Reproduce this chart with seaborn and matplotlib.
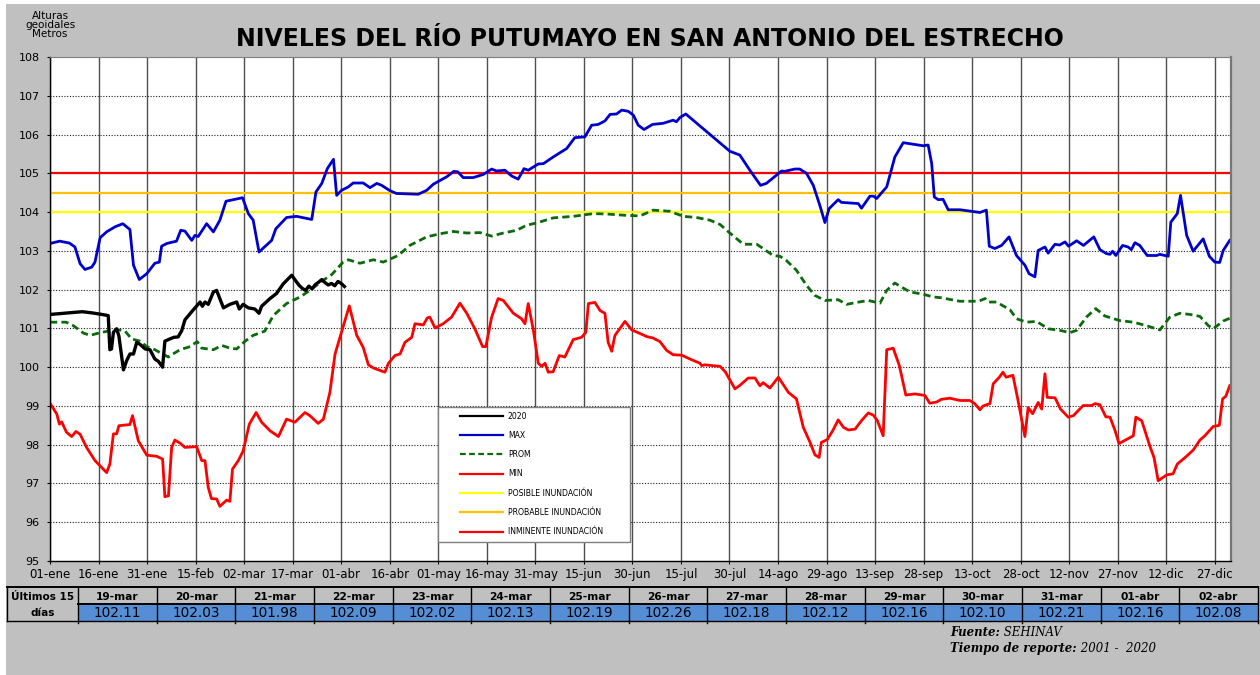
import matplotlib
matplotlib.use("Agg")
import matplotlib.pyplot as plt
from matplotlib.patches import Rectangle
from matplotlib.lines import Line2D
import pandas as pd
import seaborn as sns

# ---------------- data ----------------
TITLE = "NIVELES DEL RÍO PUTUMAYO EN SAN ANTONIO DEL ESTRECHO"
Y_LABEL = "Alturas\ngeoidales\nMetros"

x_tick_labels = ["01-ene", "16-ene", "31-ene", "15-feb", "02-mar", "17-mar", "01-abr",
                 "16-abr", "01-may", "16-may", "31-may", "15-jun", "30-jun", "15-jul",
                 "30-jul", "14-ago", "29-ago", "13-sep", "28-sep", "13-oct", "28-oct",
                 "12-nov", "27-nov", "12-dic", "27-dic"]
x_tick_days = list(range(0, 361, 15))
y_ticks = list(range(95, 109))

threshold_levels = [104.0, 104.5, 105.0]
threshold_labels = ["POSIBLE INUNDACIÓN", "PROBABLE INUNDACIÓN", "INMINENTE INUNDACIÓN"]

table_dates = ["19-mar", "20-mar", "21-mar", "22-mar", "23-mar", "24-mar", "25-mar",
               "26-mar", "27-mar", "28-mar", "29-mar", "30-mar", "31-mar", "01-abr", "02-abr"]
table_values = [102.11, 102.03, 101.98, 102.09, 102.02, 102.13, 102.19,
                102.26, 102.18, 102.12, 102.16, 102.10, 102.21, 102.16, 102.08]
table_first_day = 77  # 19-mar

# 2020 series (day of year, level) before the last 15 days
y2020_early = [(0, 101.36), (3, 101.38), (7, 101.41), (10, 101.43), (13, 101.40), (16, 101.36),
               (18, 101.33), (18.5, 100.45), (19, 100.47), (19.6, 100.90), (20.6, 100.99),
               (21.3, 100.80), (22.7, 99.93), (23.7, 100.17), (24.7, 100.34), (25.8, 100.34),
               (26.8, 100.64), (27.8, 100.59), (29.4, 100.47), (30.9, 100.45), (32.4, 100.21),
               (33.5, 100.15), (34.8, 100.00), (35.5, 100.67), (37.1, 100.73), (38.3, 100.77),
               (39.6, 100.78), (40.7, 100.94), (41.7, 101.22), (44.3, 101.48), (46.4, 101.68),
               (47.1, 101.57), (47.9, 101.68), (48.9, 101.62), (50.5, 101.94), (51.5, 101.98),
               (53.6, 101.53), (55.6, 101.62), (57.7, 101.68), (58.5, 101.50), (59.7, 101.62),
               (61.3, 101.53), (63.3, 101.50), (64.6, 101.39), (65.4, 101.57), (68, 101.77),
               (70, 101.90), (72.1, 102.15), (74.7, 102.37), (76, 102.22)]

max_pts = [(0, 103.19), (3, 103.25), (6, 103.2), (7.7, 103.1), (9.3, 102.67), (10.8, 102.52),
           (12.9, 102.58), (13.9, 102.71), (15.5, 103.34), (17.5, 103.49), (20.1, 103.62),
           (22.5, 103.70), (24.7, 103.55), (25.8, 102.63), (27.6, 102.26), (29.9, 102.41),
           (32.4, 102.68), (33.8, 102.71), (34.5, 103.12), (36.1, 103.19), (39.1, 103.25),
           (40.4, 103.53), (41.7, 103.51), (43.8, 103.27), (44.8, 103.40), (45.8, 103.37),
           (48.4, 103.70), (50.5, 103.49), (52.5, 103.79), (54.4, 104.28), (56.7, 104.32),
           (59.5, 104.37), (61.3, 103.96), (62.8, 103.79), (64.6, 102.97), (68.5, 103.27),
           (69.8, 103.57), (73.1, 103.86), (76.2, 103.89), (80.9, 103.81), (82.2, 104.52),
           (84.0, 104.74), (85.7, 105.12), (87.6, 105.36), (88.6, 104.43), (90.1, 104.56),
           (92.2, 104.65), (93.7, 104.75), (96.8, 104.75), (98.9, 104.63), (101, 104.74),
           (102.5, 104.69), (105.1, 104.55), (107.1, 104.48), (113.8, 104.46), (116.4, 104.56),
           (118.5, 104.72), (122.6, 104.91), (124.8, 105.05), (126, 105.04), (127.7, 104.89),
           (130.8, 104.89), (133.9, 104.97), (136.5, 105.11), (138, 105.06), (140.6, 105.08),
           (142.7, 104.93), (144.7, 104.85), (146.5, 105.12), (147.8, 105.08), (150.9, 105.24),
           (152.5, 105.25), (155.5, 105.42), (159.7, 105.64), (162.2, 105.92), (165.3, 105.94),
           (167.4, 106.24), (169.4, 106.26), (171.5, 106.35), (173.1, 106.52), (175.1, 106.53),
           (176.7, 106.63), (178.7, 106.60), (180.3, 106.50), (181.8, 106.24), (183.6, 106.13),
           (186.2, 106.26), (189.5, 106.29), (192.6, 106.37), (193.6, 106.33), (194.7, 106.44),
           (196.5, 106.53), (210.1, 105.57), (213.2, 105.47), (216.3, 105.08), (219.6, 104.69),
           (221.4, 104.74), (226.1, 105.06), (227, 105.05), (230.2, 105.11), (231.7, 105.11),
           (233.8, 105.0), (235.9, 104.69), (237.9, 104.18), (239.5, 103.73), (240.8, 104.09),
           (243.6, 104.32), (244.6, 104.25), (249.8, 104.22), (250.8, 104.10), (253.4, 104.41),
           (254.5, 104.41), (255.5, 104.35), (258.6, 104.65), (261.1, 105.42), (263.7, 105.79),
           (266.8, 105.75), (269.9, 105.71), (271.4, 105.73), (272.5, 105.25), (273.3, 104.39),
           (274.5, 104.32), (276, 104.33), (277.6, 104.06), (281.2, 104.06), (287.4, 103.99),
           (289.4, 104.05), (290.3, 103.12), (292, 103.06), (294.1, 103.14), (296.4, 103.36),
           (298.7, 102.88), (301.3, 102.63), (302.6, 102.41), (304.4, 102.33), (305.4, 103.01),
           (307.5, 103.10), (308.5, 102.94), (310.6, 103.17), (312, 103.15), (313.7, 103.23),
           (314.8, 103.12), (317.3, 103.26), (319.4, 103.14), (322.6, 103.36), (324.5, 103.03),
           (326.5, 102.93), (327.6, 102.91), (328.4, 102.99), (329.4, 102.88), (331.5, 103.14),
           (333.2, 103.10), (334.2, 103.03), (335.3, 103.21), (336.8, 103.14), (339.1, 102.88),
           (342, 102.88), (343, 102.91), (345.6, 102.86), (346.4, 103.74), (348.4, 103.96),
           (349.4, 104.43), (351.3, 103.40), (353.3, 102.99), (356.4, 103.31), (358.3, 102.86),
           (360, 102.71), (361.5, 102.70), (362.6, 103.01), (364.6, 103.27)]

prom_pts = [(0, 101.16), (5, 101.16), (7.2, 101.07), (10.3, 100.88), (12.4, 100.82), (15.5, 100.89),
            (18, 100.93), (21.6, 100.96), (23.2, 100.93), (25.2, 100.73), (27.8, 100.67),
            (29.9, 100.53), (32.4, 100.45), (34.8, 100.34), (36.6, 100.26), (38, 100.34),
            (40.2, 100.45), (43.3, 100.53), (45.5, 100.66), (46.9, 100.49), (50.5, 100.45),
            (53.1, 100.56), (55.6, 100.49), (57.7, 100.47), (60.3, 100.67), (62.8, 100.82),
            (66.4, 100.93), (69, 101.33), (73.1, 101.64), (77.3, 101.81), (80.3, 101.98),
            (84.4, 102.24), (87.1, 102.39), (90.6, 102.71), (92.2, 102.77), (95.8, 102.68),
            (99.9, 102.77), (103, 102.71), (107.6, 102.88), (111.2, 103.14), (116.4, 103.36),
            (120.5, 103.44), (124.6, 103.50), (128.8, 103.46), (132.9, 103.47), (136.5, 103.38),
            (140.1, 103.46), (144.2, 103.53), (147.3, 103.66), (150.4, 103.72), (155.5, 103.85),
            (161.7, 103.89), (167.9, 103.96), (172, 103.95), (177.2, 103.92), (182.3, 103.90),
            (186.4, 104.05), (191.6, 104.02), (195.7, 103.89), (199.8, 103.86), (204, 103.79),
            (207.1, 103.68), (210.1, 103.46), (214.3, 103.17), (218.4, 103.17), (220.4, 103.06),
            (223.5, 102.88), (225.6, 102.86), (227.6, 102.75), (230.7, 102.50), (233.8, 102.11),
            (236.4, 101.85), (239.5, 101.72), (243.6, 101.74), (246.2, 101.62), (249.3, 101.67),
            (252.9, 101.72), (256.5, 101.65), (258.6, 101.98), (261.1, 102.17), (263.7, 102.04),
            (265.8, 101.94), (269.9, 101.88), (273, 101.81), (275.5, 101.79), (278.6, 101.74),
            (281.2, 101.70), (284.3, 101.70), (287, 101.70), (289, 101.77), (290, 101.68),
            (292.5, 101.68), (296.7, 101.48), (298.7, 101.25), (301.8, 101.16), (304.9, 101.18),
            (308.5, 100.99), (312.1, 100.95), (315.2, 100.89), (317.3, 100.95), (320.3, 101.29),
            (323.2, 101.51), (326, 101.32), (330.7, 101.20), (334.8, 101.16), (338.9, 101.07),
            (343, 100.96), (346.1, 101.29), (349.2, 101.39), (352.3, 101.36), (355.4, 101.31),
            (358, 101.07), (359.5, 100.99), (362.6, 101.19), (364.6, 101.26)]

min_pts = [(0, 99.07), (2.1, 98.79), (2.9, 98.53), (3.6, 98.59), (5.1, 98.32), (6.7, 98.21),
           (8, 98.34), (9.3, 98.27), (11.3, 97.93), (13.9, 97.59), (16, 97.41), (17.5, 97.28),
           (18.5, 97.5), (19.6, 98.28), (20.6, 98.28), (21.3, 98.49), (24.7, 98.52), (25.5, 98.75),
           (27.3, 98.1), (29.9, 97.73), (33, 97.70), (34.8, 97.63), (35.5, 96.66), (36.6, 96.68),
           (37.6, 97.93), (38.6, 98.12), (40.2, 98.04), (41.7, 97.93), (45.3, 97.95), (46.9, 97.59),
           (47.9, 97.59), (48.9, 96.90), (49.9, 96.61), (51.5, 96.6), (52.5, 96.41), (54.6, 96.57),
           (55.6, 96.54), (56.4, 97.37), (58.2, 97.59), (59.7, 97.84), (61.6, 98.53), (63.7, 98.83),
           (65.4, 98.58), (68, 98.36), (70.6, 98.21), (73.1, 98.66), (75.7, 98.58), (78.8, 98.83),
           (80.3, 98.75), (82.9, 98.55), (84.5, 98.66), (86.5, 99.35), (88.1, 100.34), (90.1, 100.9),
           (92.5, 101.58), (94.8, 100.82), (96.8, 100.51), (98.4, 100.06), (99.9, 99.98),
           (103.5, 99.87), (104.6, 100.1), (106.6, 100.3), (108.2, 100.34), (109.7, 100.64),
           (111.8, 100.77), (112.8, 101.12), (115.4, 101.09), (116.6, 101.27), (117.4, 101.29),
           (119, 101.01), (121.5, 101.12), (124.1, 101.29), (126.7, 101.65), (128.8, 101.39),
           (131.3, 100.99), (133.7, 100.53), (134.7, 100.53), (136.5, 101.29), (138.5, 101.77),
           (140.1, 101.72), (143.2, 101.39), (145.7, 101.25), (146.8, 101.12), (147.8, 101.64),
           (149.4, 100.95), (150.9, 100.1), (152, 100.02), (153, 100.1), (154, 99.87),
           (155.5, 99.88), (157.4, 100.3), (159.1, 100.26), (161.7, 100.71), (164.3, 100.77),
           (165.6, 100.9), (166.4, 101.64), (168.4, 101.67), (170, 101.46), (171.5, 101.39),
           (172.5, 100.64), (173.6, 100.41), (174.6, 100.82), (177.7, 101.18), (179.8, 100.96),
           (182.3, 100.87), (184.4, 100.79), (186.4, 100.75), (188.5, 100.66), (190.6, 100.43),
           (192.6, 100.32), (195.2, 100.31), (197.8, 100.21), (200.9, 100.1), (201.4, 100.04),
           (202.4, 100.06), (207.1, 100.02), (208.7, 99.88), (211.7, 99.44), (213.2, 99.53),
           (215.8, 99.72), (217.9, 99.72), (219.4, 99.52), (220.4, 99.6), (222.5, 99.46),
           (225.1, 99.74), (228.2, 99.35), (230.7, 99.18), (232.8, 98.45), (234.9, 98.06),
           (236.4, 97.74), (237.7, 97.67), (238.4, 98.06), (240.2, 98.13), (241.9, 98.36),
           (243.6, 98.64), (245.2, 98.45), (246.7, 98.38), (248.8, 98.4), (250.8, 98.62),
           (252.9, 98.82), (254.5, 98.76), (255.7, 98.62), (257.5, 98.23), (258.6, 100.45),
           (260.6, 100.49), (262.5, 100.04), (264.5, 99.28), (267.3, 99.31), (270.4, 99.27),
           (271.9, 99.07), (274, 99.1), (275.5, 99.17), (278.1, 99.2), (281.2, 99.14),
           (284.3, 99.14), (285.8, 99.06), (287.4, 98.9), (288.4, 99.0), (290.5, 99.06),
           (291.5, 99.57), (293.4, 99.74), (294.5, 99.87), (295.5, 99.74), (297.6, 99.79),
           (299.4, 99.05), (301.3, 98.21), (302.3, 98.96), (303.7, 98.8), (305.4, 99.09),
           (306.5, 98.92), (307.5, 99.83), (308.2, 99.22), (310.6, 99.21), (312.3, 98.92),
           (314.7, 98.71), (316.3, 98.75), (319.3, 99.01), (321.9, 99.01), (323, 99.06),
           (324.5, 99.03), (326.3, 98.72), (327.6, 98.71), (329.1, 98.38), (330.4, 98.03),
           (334.8, 98.23), (335.6, 98.71), (337.4, 98.62), (339.9, 97.97), (341.2, 97.67),
           (342.5, 97.07), (345.1, 97.22), (347.1, 97.25), (348.4, 97.5), (349.7, 97.59),
           (351.1, 97.69), (353.3, 97.86), (355.4, 98.12), (356.9, 98.23), (359.5, 98.47),
           (361.4, 98.5), (362.4, 99.18), (363.4, 99.25), (364.6, 99.52)]

# ---------------- styles ----------------
W, H = 1260, 675
BG = "#c0c0c0"
C2020, CMAX, CPROM, CMIN = "#000000", "#0000cc", "#0b6b0b", "#ff0000"
THR_COLORS = ["#ffff00", "#ffc000", "#ff0000"]


def fx(px):
    return px / W


def fy(py):
    return 1 - py / H


fig = plt.figure(figsize=(W / 100, H / 100), dpi=100)
fig.patch.set_facecolor("white")
fig.patches.append(Rectangle((fx(6), 0), 1 - fx(6), fy(4), transform=fig.transFigure,
                             facecolor=BG, edgecolor="none", zorder=-10))

ax = fig.add_axes([fx(50), fy(561), fx(1231) - fx(50), fy(57) - fy(561)])
ax.set_facecolor("white")

# threshold lines
for lvl, col in zip(threshold_levels, THR_COLORS):
    ax.axhline(lvl, color=col, lw=1.6, zorder=1.8)

# series
df2020 = pd.DataFrame(y2020_early + [(table_first_day + i, v) for i, v in enumerate(table_values)],
                      columns=["dia", "nivel"])
dfmax = pd.DataFrame(max_pts, columns=["dia", "nivel"])
dfprom = pd.DataFrame(prom_pts, columns=["dia", "nivel"])
dfmin = pd.DataFrame(min_pts, columns=["dia", "nivel"])

sns.lineplot(data=dfmin, x="dia", y="nivel", ax=ax, color=CMIN, lw=2.0, estimator=None,
             sort=False, legend=False)
sns.lineplot(data=dfprom, x="dia", y="nivel", ax=ax, color=CPROM, lw=2.0, estimator=None,
             sort=False, legend=False)
ax.lines[-1].set_dashes((2.6, 1.5))
sns.lineplot(data=dfmax, x="dia", y="nivel", ax=ax, color=CMAX, lw=2.0, estimator=None,
             sort=False, legend=False)
sns.lineplot(data=df2020, x="dia", y="nivel", ax=ax, color=C2020, lw=2.4, estimator=None,
             sort=False, legend=False)

ax.set_xlim(0, 365)
ax.set_ylim(95, 108)
ax.set_xticks(x_tick_days)
ax.set_xticklabels(x_tick_labels, fontsize=8.5)
ax.set_yticks(y_ticks)
ax.set_yticklabels([str(v) for v in y_ticks], fontsize=8)
ax.set_xlabel("")
ax.set_ylabel("")
ax.tick_params(axis="x", direction="out", length=2, width=0.8, pad=3.2)
ax.tick_params(axis="y", direction="out", length=2.5, width=0.8, pad=4.8)
ax.xaxis.grid(True, color="#505050", lw=1.0, ls="-")
ax.yaxis.grid(True, color="#202020", lw=0.8, ls=(0, (1, 1.5)))
for side in ["left", "bottom"]:
    ax.spines[side].set_color("black")
    ax.spines[side].set_linewidth(1.0)
ax.spines["top"].set_color("#808080")
ax.spines["top"].set_linewidth(0.8)
ax.spines["right"].set_color("#777777")
ax.spines["right"].set_linewidth(1.6)

# legend box + legend
ax.add_patch(Rectangle(((438 - 50) / 1181, (561 - 542) / 504), 192 / 1181, 135 / 504,
                       transform=ax.transAxes, facecolor="white", edgecolor="#808080",
                       lw=1.0, zorder=4.5))
handles = [Line2D([], [], color=C2020, lw=1.6),
           Line2D([], [], color=CMAX, lw=1.6),
           Line2D([], [], color=CPROM, lw=1.6, dashes=(2.6, 1.5)),
           Line2D([], [], color=CMIN, lw=1.6)] + \
          [Line2D([], [], color=c, lw=1.6) for c in THR_COLORS]
labels = ["2020", "MAX", "PROM", "MIN"] + threshold_labels
leg = ax.legend(handles, labels, loc="upper left",
                bbox_to_anchor=((455.4 - 50) / 1181, (561 - 407) / 504),
                frameon=False, fontsize=5.6, handlelength=5.5, handletextpad=0.65,
                labelspacing=1.32, borderpad=0.6, borderaxespad=0)
leg.set_zorder(5)

# title and axis caption
fig.text(fx(650), fy(39.5), TITLE, ha="center", va="center", fontsize=17, fontweight="bold")
fig.text(fx(50), fy(25), Y_LABEL, ha="center", va="center", fontsize=7.5, linespacing=0.85)

# ---------------- table ----------------
tbl_top, tbl_mid, tbl_bot = 587, 604, 621
lab_x0, lab_x1, tbl_x1 = 7, 78, 1258
ncol = len(table_dates)
colw = (tbl_x1 - lab_x1) / ncol
fig.patches.append(Rectangle((fx(lab_x1), fy(tbl_bot)), fx(tbl_x1) - fx(lab_x1),
                             fy(tbl_mid) - fy(tbl_bot), transform=fig.transFigure,
                             facecolor="#558ed5", edgecolor="none", zorder=1))


def hline(y, x0, x1, lw):
    fig.add_artist(Line2D([fx(x0), fx(x1)], [fy(y), fy(y)], transform=fig.transFigure,
                          color="black", lw=lw, zorder=3))


def vline(x, y0, y1, lw):
    fig.add_artist(Line2D([fx(x), fx(x)], [fy(y0), fy(y1)], transform=fig.transFigure,
                          color="black", lw=lw, zorder=3))


hline(tbl_top, lab_x0, tbl_x1, 1.4)
hline(tbl_mid, lab_x1, tbl_x1, 1.4)
hline(tbl_bot, lab_x0, tbl_x1, 1.0)
vline(lab_x0, tbl_top, tbl_bot, 1.0)
for i in range(ncol + 1):
    vline(lab_x1 + i * colw, tbl_top, tbl_bot + 2, 1.0)

TFONT = "DejaVu Sans"
fig.text(fx((lab_x0 + lab_x1) / 2), fy(596.5), "Últimos 15", ha="center", va="center",
         fontsize=7.6, fontweight="bold", family=TFONT)
fig.text(fx((lab_x0 + lab_x1) / 2), fy(612.5), "días", ha="center", va="center",
         fontsize=7.6, fontweight="bold", family=TFONT)
for i, (d, v) in enumerate(zip(table_dates, table_values)):
    cx = lab_x1 + (i + 0.5) * colw
    fig.text(fx(cx), fy(596.8), d, ha="center", va="center", fontsize=7.7,
             fontweight="bold", family=TFONT)
    fig.text(fx(cx), fy(612.8), f"{v:.2f}", ha="center", va="center", fontsize=9.8,
             family=TFONT)

# ---------------- footnotes ----------------
SERIF = "DejaVu Serif"
t1 = fig.text(fx(950), fy(632.5), "Fuente:", ha="left", va="center", fontsize=8.5,
              family=SERIF, style="italic", fontweight="bold")
ax.annotate(" SEHINAV", xy=(1, 0.5), xycoords=t1, ha="left", va="center", fontsize=8.5,
            family=SERIF, style="italic", annotation_clip=False)
t2 = fig.text(fx(950), fy(648.5), "Tiempo de reporte:", ha="left", va="center", fontsize=8.5,
              family=SERIF, style="italic", fontweight="bold")
ax.annotate(" 2001 -  2020", xy=(1, 0.5), xycoords=t2, ha="left", va="center", fontsize=8.5,
            family=SERIF, style="italic", annotation_clip=False)

fig.savefig("out.png", dpi=100, facecolor=fig.get_facecolor())
